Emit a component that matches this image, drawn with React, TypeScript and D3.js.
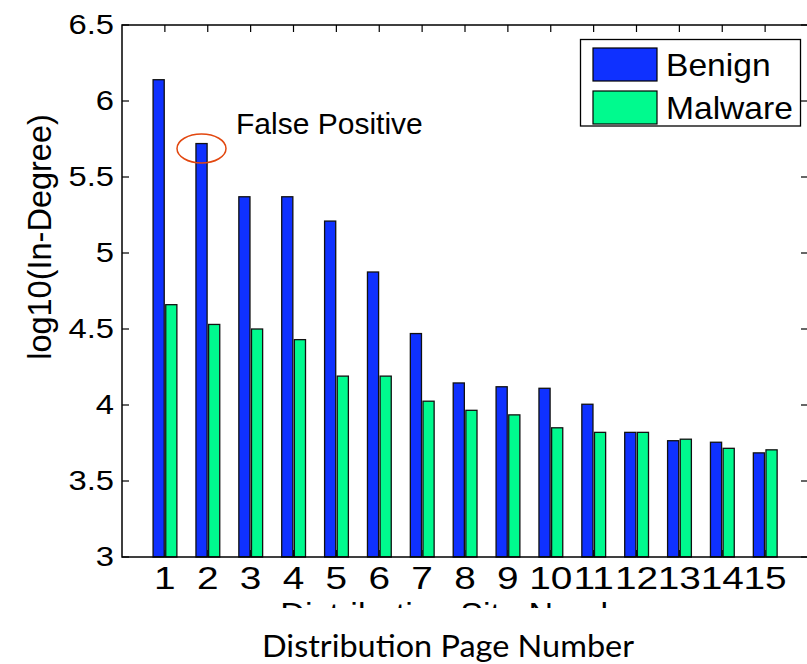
import React, { useEffect, useRef } from 'react';
import * as d3 from 'd3';

// distribution pages, ranked by benign in-degree
const categories = ['1', '2', '3', '4', '5', '6', '7', '8', '9', '10', '11', '12', '13', '14', '15'];
const seriesNames = ['Benign', 'Malware'];
const seriesColors = ['#0f31ff', '#00fa8e'];

// log10(in-degree) per page
const benign = [6.14, 5.72, 5.37, 5.37, 5.21, 4.875, 4.47, 4.145, 4.12, 4.11, 4.005, 3.82, 3.765, 3.755, 3.685];
const malware = [4.66, 4.53, 4.5, 4.43, 4.19, 4.19, 4.025, 3.965, 3.935, 3.85, 3.82, 3.82, 3.775, 3.715, 3.705];

const yTicks = [3, 3.5, 4, 4.5, 5, 5.5, 6, 6.5];
const yTickLabels = ['3', '3.5', '4', '4.5', '5', '5.5', '6', '6.5'];

const annotationText = 'False Positive';
const hiddenXLabel = 'Distribution Site Number';
const xLabel = 'Distribution Page Number';
const yLabel = 'log10(In-Degree)';

export default function App() {
  const ref = useRef<SVGSVGElement>(null);

  useEffect(() => {
    const width = 807;
    const height = 664;
    const margin = { left: 122, right: -1, top: 25, bottom: 107 };
    const svg = d3.select(ref.current);
    svg.selectAll('*').remove();

    const x = d3
      .scaleLinear()
      .domain([0, 16])
      .range([margin.left, width - margin.right]);

    const y = d3
      .scaleLinear()
      .domain([3, 6.5])
      .range([height - margin.bottom, margin.top]);

    // offsets of the two bars inside a group, in x units
    const inner = d3
      .scaleBand()
      .domain(seriesNames)
      .range([-0.275, 0.28])
      .paddingInner(0.12);

    const font = '"Liberation Sans", Arial, Helvetica, sans-serif';
    const x0 = x(0);
    const x1 = x(16);
    const yBot = y(3);
    const yTop = y(6.5);

    const g = svg.append('g');

    // tick marks (inside, on all four sides)
    categories.forEach(function(c, i) {
      const cx = x(i + 1);
      g.append('line').attr('x1', cx).attr('x2', cx).attr('y1', yBot).attr('y2', yBot - 7)
        .attr('stroke', '#000').attr('stroke-width', 1.2);
      g.append('line').attr('x1', cx).attr('x2', cx).attr('y1', yTop).attr('y2', yTop + 7)
        .attr('stroke', '#000').attr('stroke-width', 1.2);
    });
    yTicks.forEach(function(t) {
      g.append('line').attr('x1', x0).attr('x2', x0 + 7).attr('y1', y(t)).attr('y2', y(t))
        .attr('stroke', '#000').attr('stroke-width', 1.2);
      g.append('line').attr('x1', x1).attr('x2', x1 - 7).attr('y1', y(t)).attr('y2', y(t))
        .attr('stroke', '#000').attr('stroke-width', 1.2);
    });

    // bars
    const data = [benign, malware];
    data.forEach(function(values, s) {
      g.append('g')
        .selectAll('rect')
        .data(values)
        .enter()
        .append('rect')
        .attr('x', function(d, i) { return x(i + 1 + (inner(seriesNames[s]) as number)); })
        .attr('width', x(inner.bandwidth()) - x(0))
        .attr('y', function(d) { return y(d); })
        .attr('height', function(d) { return yBot - y(d); })
        .attr('fill', seriesColors[s])
        .attr('stroke', '#111')
        .attr('stroke-width', 1.3);
    });

    // axes box
    g.append('rect')
      .attr('x', x0).attr('y', yTop)
      .attr('width', x1 - x0).attr('height', yBot - yTop)
      .attr('fill', 'none').attr('stroke', '#000').attr('stroke-width', 1.5);

    // tick labels (the source figure's text is a bit wide, hence the x stretch)
    g.selectAll('.ytick')
      .data(yTicks)
      .enter()
      .append('text')
      .attr('transform', function(d) { return 'translate(' + (x0 - 8) + ',' + (y(d) + 9) + ') scale(1.17,1)'; })
      .attr('text-anchor', 'end')
      .style('font-family', font)
      .style('font-size', '28px')
      .text(function(d, i) { return yTickLabels[i]; });

    g.selectAll('.xtick')
      .data(categories)
      .enter()
      .append('text')
      .attr('transform', function(d, i) { return 'translate(' + x(i + 1) + ',589) scale(1.25,1)'; })
      .attr('text-anchor', 'middle')
      .style('font-family', font)
      .style('font-size', '31px')
      .text(function(d) { return d; });

    // y label
    g.append('text')
      .attr('transform', 'translate(51,237) rotate(-90)')
      .attr('text-anchor', 'middle')
      .style('font-family', font)
      .style('font-size', '32.5px')
      .text(yLabel);

    // original x label, covered by a white band
    g.append('text')
      .attr('transform', 'translate(' + (x0 + x1) / 2 + ',625) scale(1.1,1)')
      .attr('text-anchor', 'middle')
      .style('font-family', font)
      .style('font-size', '31px')
      .text(hiddenXLabel);
    g.append('rect')
      .attr('x', 0).attr('y', 608)
      .attr('width', width).attr('height', height - 608)
      .attr('fill', '#fff');

    g.append('text')
      .attr('x', 262)
      .attr('y', 657)
      .attr('textLength', 372)
      .attr('lengthAdjust', 'spacingAndGlyphs')
      .style('font-family', 'Lato, "Noto Sans", sans-serif')
      .style('font-size', '31px')
      .text(xLabel);

    // false positive annotation
    g.append('ellipse')
      .attr('cx', 201.5).attr('cy', 148.5)
      .attr('rx', 24.5).attr('ry', 14.5)
      .attr('fill', 'none')
      .attr('stroke', '#e2470f')
      .attr('stroke-width', 1.5);
    g.append('text')
      .attr('x', 236)
      .attr('y', 134)
      .style('font-family', font)
      .style('font-size', '30px')
      .text(annotationText);

    // legend
    const legend = g.append('g');
    legend.append('rect')
      .attr('x', 580.5).attr('y', 39.5)
      .attr('width', 220).attr('height', 86.5)
      .attr('fill', '#fff').attr('stroke', '#000').attr('stroke-width', 1.3);
    seriesNames.forEach(function(name, i) {
      const top = 48 + i * 43;
      legend.append('rect')
        .attr('x', 593).attr('y', top)
        .attr('width', 64).attr('height', 33)
        .attr('fill', seriesColors[i]).attr('stroke', '#000').attr('stroke-width', 1.2);
      legend.append('text')
        .attr('transform', 'translate(666,' + (top + 28) + ') scale(1.05,1)')
        .style('font-family', font)
        .style('font-size', '32px')
        .text(name);
    });
  }, []);

  return (
    <svg
      ref={ref}
      width={807}
      height={664}
      style={{ position: 'absolute', left: 0, top: 0, background: '#fff' }}
    />
  );
}
